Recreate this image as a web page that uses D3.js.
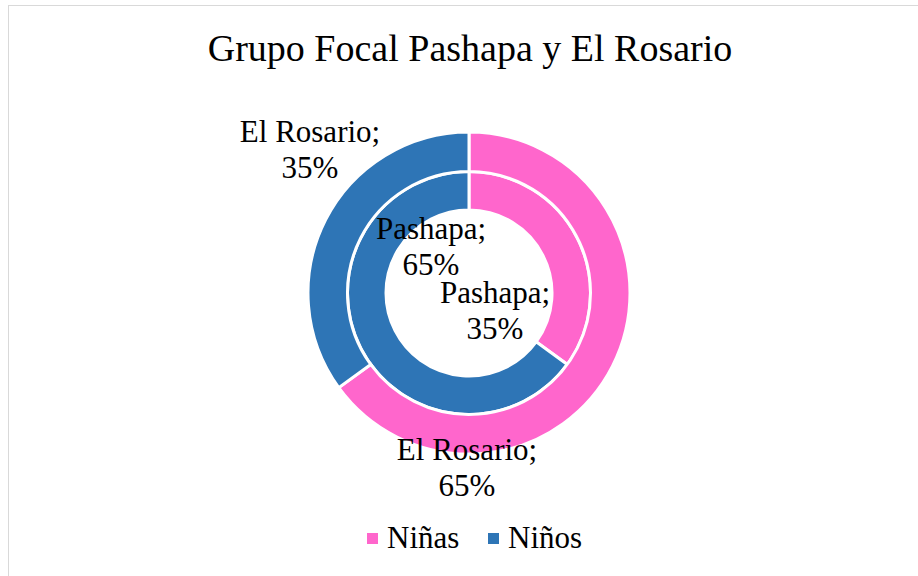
<!DOCTYPE html>
<html><head><meta charset="utf-8">
<script src="https://cdn.jsdelivr.net/npm/d3@7"></script>
</head><body style="margin:0">
<svg id="c" width="918" height="576"></svg>
<script>
const title = "Grupo Focal Pashapa y El Rosario";
const categories = ["Niñas", "Niños"];
const rings = ["Pashapa", "El Rosario"];        // inner, outer
const pashapa = [35, 65];
const elRosario = [65, 35];
const colors = ["#FF66CC", "#2E75B6"];

const svg = d3.select("#c");
const W = 918, H = 576;
const FONT = '"Liberation Serif"';

svg.append("rect").attr("x", 8.5).attr("y", 5.5).attr("width", W).attr("height", H)
  .attr("fill", "#fff").attr("stroke", "#d9d9d9").attr("stroke-width", 1);

svg.append("text").attr("x", 470).attr("y", 61).attr("text-anchor", "middle")
  .attr("font-size", 38).style("font-family", FONT).text(title);

const cx = 469, cy = 293;
const color = d3.scaleOrdinal().domain(categories).range(colors);
const pie = d3.pie().sort(null).value(d => d.v);
const radii = [[83, 121.5], [121.5, 161]];
const series = [pashapa, elRosario];

const g = svg.append("g").attr("transform", `translate(${cx},${cy})`);
const arcsData = [];
series.forEach((vals, ri) => {
  const data = pie(categories.map((c, i) => ({c, v: vals[i], ring: rings[ri]})));
  const arc = d3.arc().innerRadius(radii[ri][0]).outerRadius(radii[ri][1]);
  g.selectAll(null).data(data).enter().append("path")
    .attr("d", arc).attr("fill", d => color(d.data.c))
    .attr("stroke", "#fff").attr("stroke-width", 3).attr("stroke-linejoin", "miter");
  data.forEach(d => arcsData.push({d, ri, arc}));
});

const labelPos = {
  "0-0": [26, 10],
  "0-1": [-38, -54],
  "1-0": [-2, 167],
  "1-1": [-159, -151]
};
arcsData.forEach(({d, ri}) => {
  const key = ri + "-" + d.index;
  const [dx, dy] = labelPos[key];
  const t = g.append("text").attr("text-anchor", "middle")
    .attr("font-size", 31).style("font-family", FONT);
  t.append("tspan").attr("x", dx).attr("y", dy).text(d.data.ring + ";");
  t.append("tspan").attr("x", dx).attr("y", dy + 36).text(d.data.v + "%");
});

const legend = svg.append("g");
const lx = [367, 488];
categories.forEach((c, i) => {
  legend.append("rect").attr("x", lx[i]).attr("y", 533).attr("width", 11).attr("height", 11).attr("fill", color(c));
  legend.append("text").attr("x", lx[i] + 20).attr("y", 548)
    .attr("font-size", 31).style("font-family", FONT).text(c);
});
</script>
</body></html>
